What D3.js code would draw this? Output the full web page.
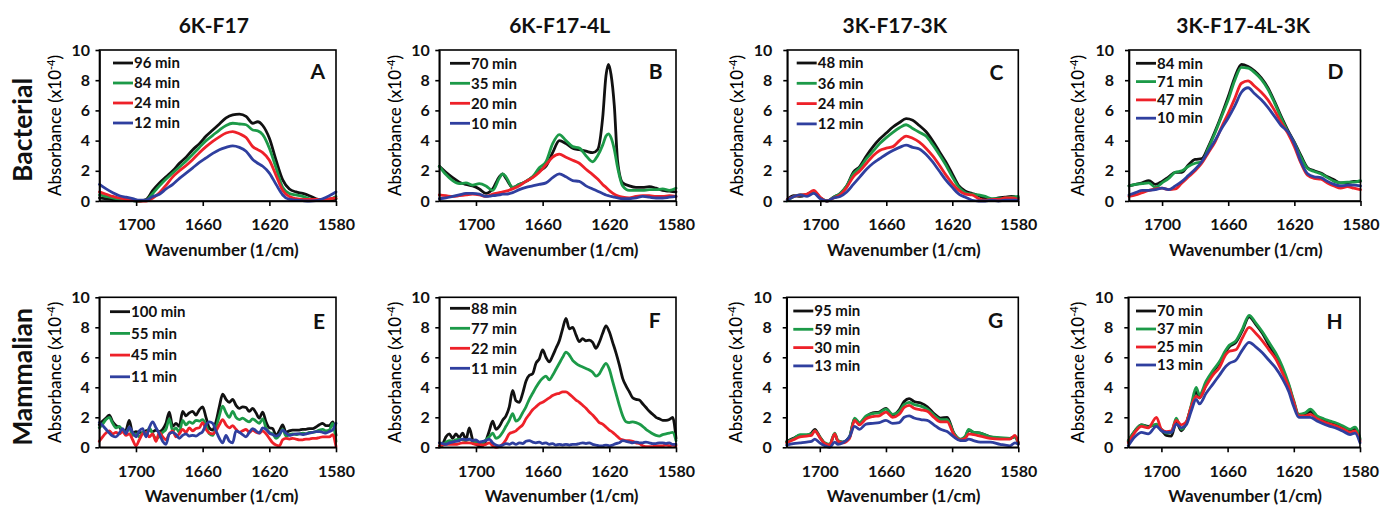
<!DOCTYPE html>
<html><head><meta charset="utf-8">
<script src="https://cdn.jsdelivr.net/npm/d3@7"></script>
<style>
body{margin:0;background:#fff;}
svg{display:block;font-family:Lato,"Open Sans",sans-serif;}
</style></head><body>
<svg id="chart" width="1382" height="507"></svg>
<script>
// ---------- labels ----------
const columnTitles = ["6K-F17","6K-F17-4L","3K-F17-3K","3K-F17-4L-3K"];
const rowTitles = ["Bacterial","Mammalian"];
const panelLetters = ["A","B","C","D","E","F","G","H"];
const yTicks = [0,2,4,6,8,10];
const xTicks = [1700,1660,1620,1580];
const seriesColors = ["#111111","#1c9a48","#ee2129","#2f3f9f"];

const labelsA = ["96 min","84 min","24 min","12 min"];
const labelsB = ["70 min","35 min","20 min","10 min"];
const labelsC = ["48 min","36 min","24 min","12 min"];
const labelsD = ["84 min","71 min","47 min","10 min"];
const labelsE = ["100 min","55 min","45 min","11 min"];
const labelsF = ["88 min","77 min","22 min","11 min"];
const labelsG = ["95 min","59 min","30 min","13 min"];
const labelsH = ["70 min","37 min","25 min","13 min"];

// ---------- wavenumber grids (1/cm) ----------
const wnA = [1722,1718,1714,1710,1706,1702,1698,1694,1690,1686,1682,1678,1674,1670,1666,1662,1658,1654,1650,1646,1642,1638,1634,1630,1627,1624,1620,1616,1612,1608,1604,1600,1596,1592,1588,1584,1580];
const wnB = [1722,1718,1714,1710,1706,1702,1698,1694,1690,1686,1684,1682,1678,1674,1670,1666,1662,1658,1654,1650,1646,1642,1638,1634,1630,1627,1624,1622,1620.5,1619,1617,1615,1612,1608,1604,1600,1596,1592,1588,1584,1580];
const wnCD = [1720,1716,1712,1708,1704,1700,1696,1692,1688,1684,1680,1676,1672,1668,1664,1660,1656,1652,1648,1644,1640,1636,1632,1628,1624,1620,1616,1612,1608,1604,1600,1596,1592,1588,1584,1580];
const wnEF = [1722,1720,1718,1716,1714,1712,1710,1708,1706,1704,1702,1700,1698,1696,1694,1692,1690,1688,1686,1684,1682,1680,1678,1676,1674,1672,1670,1668,1666,1664,1662,1660,1658,1656,1654,1652,1650,1648,1646,1644,1642,1640,1638,1636,1634,1632,1630,1628,1626,1624,1622,1620,1618,1616,1614,1612,1610,1608,1606,1604,1602,1600,1598,1596,1594,1592,1590,1588,1586,1584,1582,1580];
const wnG = [1720,1716,1712,1708,1705,1703,1700,1697,1694,1691,1689,1686,1682,1679,1676,1672,1668,1664,1660,1656,1652,1649,1646,1643,1639,1635,1631,1627,1623,1619,1615,1612,1610,1607,1603,1597,1591,1585,1582,1580];
const wnH = [1720,1716,1712,1708,1703,1700,1697,1694,1691,1688,1685,1682,1679,1677,1673,1669,1665,1661,1659,1655,1651,1647,1643,1639,1635,1631,1627,1623,1620,1617,1613,1610,1606,1602,1598,1594,1590,1586,1583,1580];

// ---------- absorbance (x10^-4) ----------
// A: 6K-F17, bacterial
const A_96 = [0.2,0.15,0.1,0.05,0.05,0.02,0.0,0.1,0.7,1.2,1.6,2.0,2.5,2.9,3.4,3.8,4.3,4.7,5.1,5.5,5.7,5.75,5.6,5.15,5.25,5.0,4.15,2.7,1.4,0.8,0.6,0.5,0.35,0.15,0.05,0.05,0.15];
const A_84 = [0.4,0.3,0.2,0.1,0.05,0.02,0.0,0.05,0.5,1.0,1.45,1.85,2.25,2.65,3.1,3.55,4.0,4.35,4.7,5.0,5.15,5.1,5.05,4.7,4.65,4.4,3.5,2.2,0.9,0.5,0.4,0.3,0.15,0.05,0.05,0.1,0.3];
const A_24 = [0.6,0.45,0.3,0.2,0.1,0.05,0.0,0.0,0.2,0.55,1.05,1.6,2.0,2.35,2.75,3.2,3.6,3.95,4.25,4.5,4.6,4.45,4.2,3.6,3.4,3.2,2.7,1.7,0.7,0.3,0.15,0.1,0.1,0.1,0.1,0.15,0.2];
const A_12 = [1.1,0.8,0.55,0.35,0.25,0.15,0.05,0.05,0.3,0.45,0.8,1.1,1.5,1.85,2.2,2.55,2.85,3.15,3.4,3.55,3.65,3.55,3.3,2.75,2.5,2.3,1.85,1.1,0.4,0.1,0.05,0.02,0.0,0.02,0.15,0.35,0.6];
// B: 6K-F17-4L, bacterial
const B_70 = [2.3,1.9,1.55,1.25,1.1,1.0,0.8,0.5,0.8,1.6,1.8,1.5,0.9,1.1,1.3,1.6,2.0,2.3,3.2,4.0,3.8,3.5,3.4,3.3,3.2,3.4,5.5,8.3,9.05,8.4,6.3,2.6,1.2,1.0,0.9,0.9,0.95,0.85,0.7,0.65,0.6];
const B_35 = [2.3,1.75,1.35,1.15,1.2,1.05,1.15,1.0,0.7,1.5,1.8,1.6,0.9,1.1,1.3,1.6,2.2,2.6,3.8,4.4,4.0,3.6,3.5,3.0,2.6,3.0,3.7,4.3,4.45,4.2,3.4,2.2,1.0,0.7,0.7,0.7,0.75,0.75,0.8,0.7,0.85];
const B_20 = [0.4,0.35,0.3,0.35,0.4,0.45,0.4,0.3,0.45,0.55,0.6,0.65,0.8,1.0,1.3,1.55,1.9,2.4,2.9,3.1,2.9,2.7,2.5,2.1,1.75,1.45,1.1,0.9,0.75,0.6,0.45,0.35,0.25,0.2,0.3,0.35,0.35,0.3,0.3,0.35,0.3];
const B_10 = [0.15,0.2,0.3,0.4,0.5,0.5,0.45,0.3,0.35,0.4,0.45,0.45,0.55,0.75,0.9,1.0,1.1,1.2,1.55,1.8,1.6,1.35,1.3,1.0,0.8,0.65,0.5,0.4,0.35,0.3,0.25,0.2,0.15,0.15,0.2,0.3,0.25,0.2,0.2,0.25,0.3];
// C: 3K-F17-3K, bacterial
const C_48 = [0.1,0.35,0.3,0.45,0.65,0.2,0.0,0.25,0.5,1.0,1.9,2.3,3.0,3.6,4.1,4.5,4.9,5.2,5.45,5.35,5.0,4.6,4.0,3.3,2.6,1.8,1.0,0.65,0.5,0.35,0.15,0.1,0.2,0.25,0.3,0.2];
const C_36 = [0.0,0.3,0.4,0.4,0.6,0.2,0.0,0.25,0.5,1.0,1.8,2.2,2.8,3.3,3.8,4.2,4.55,4.85,5.05,4.8,4.55,4.3,3.75,3.1,2.4,1.6,0.9,0.55,0.45,0.4,0.3,0.15,0.15,0.2,0.25,0.3];
const C_24 = [0.1,0.3,0.4,0.45,0.7,0.25,0.0,0.2,0.4,0.9,1.6,2.0,2.5,3.0,3.35,3.5,3.6,4.0,4.3,4.15,3.9,3.5,3.0,2.4,1.75,1.15,0.7,0.45,0.4,0.15,0.05,0.1,0.1,0.2,0.2,0.1];
const C_12 = [0.05,0.3,0.4,0.3,0.5,0.15,0.0,0.2,0.3,0.6,1.1,1.6,2.1,2.5,2.8,3.1,3.35,3.55,3.7,3.55,3.45,3.1,2.6,2.0,1.4,0.9,0.45,0.25,0.05,0.0,0.0,0.05,0.0,0.05,0.05,0.05];
// D: 3K-F17-4L-3K, bacterial
const D_84 = [1.0,1.1,1.2,1.35,1.1,1.3,1.6,1.9,1.9,2.4,2.75,2.8,3.6,4.6,5.7,6.9,8.2,9.05,8.9,8.6,8.15,7.5,6.6,5.6,4.7,3.9,3.0,2.2,2.0,1.85,1.6,1.4,1.2,1.2,1.3,1.3];
const D_71 = [1.0,1.1,1.15,1.2,0.9,1.2,1.5,1.9,2.0,2.3,2.5,2.6,3.5,4.5,5.6,6.7,8.0,8.85,8.8,8.5,8.05,7.4,6.5,5.5,4.6,3.85,2.9,2.15,1.95,1.8,1.55,1.3,1.2,1.25,1.25,1.35];
const D_47 = [0.3,0.4,0.55,0.7,0.8,0.85,0.75,0.8,1.2,1.6,2.0,2.5,3.2,3.9,4.9,5.8,6.8,7.8,7.95,7.6,7.2,6.7,6.0,5.2,4.5,3.6,2.5,1.7,1.5,1.45,1.2,1.0,0.85,0.95,0.85,0.75];
const D_10 = [0.4,0.55,0.7,0.7,0.75,0.85,0.75,1.0,1.3,1.7,2.1,2.6,3.3,4.0,4.8,5.5,6.3,7.2,7.5,7.1,6.7,6.2,5.6,5.0,4.6,3.8,2.6,1.8,1.6,1.55,1.3,1.1,1.0,1.05,1.05,1.0];
// E: 6K-F17, mammalian
const E_100 = [1.5,1.75,1.95,2.15,1.7,1.45,1.35,1.05,1.15,1.8,0.95,1.05,1.0,0.95,1.1,1.15,1.05,1.15,1.05,1.2,1.6,2.35,1.4,1.6,1.4,2.4,2.1,2.3,2.4,2.15,2.5,2.7,2.0,1.3,1.15,1.7,2.7,3.55,3.2,3.0,3.2,2.8,2.6,2.7,2.65,2.4,2.6,2.3,1.95,2.35,1.7,1.3,1.25,0.8,1.1,1.5,1.0,1.1,1.15,1.15,1.15,1.2,1.2,1.25,1.25,1.35,1.5,1.6,1.45,1.45,1.7,0.8];
const E_55 = [1.3,1.55,1.85,2.0,1.6,1.3,1.4,1.1,1.0,1.3,0.8,0.9,0.7,1.0,0.8,1.3,0.9,0.6,0.7,1.0,1.2,1.9,1.1,1.3,1.0,1.8,1.5,1.7,1.6,1.8,1.75,1.85,1.5,0.9,0.8,1.3,2.1,2.75,2.3,2.0,2.4,2.0,1.85,1.95,1.8,1.7,1.9,1.75,1.6,1.9,1.3,1.0,0.9,0.6,0.8,1.2,0.75,0.85,0.9,0.85,0.9,0.95,0.9,1.0,1.0,1.05,1.15,1.2,1.1,1.15,1.6,0.4];
const E_45 = [0.4,0.7,0.95,1.1,0.9,1.0,0.9,1.05,0.8,0.9,0.5,0.1,0.5,0.9,1.0,0.7,0.9,0.4,1.0,0.7,0.5,0.9,1.1,0.7,0.9,1.2,1.0,1.3,1.1,1.25,1.3,1.65,1.2,0.95,0.9,1.1,1.5,1.85,1.5,1.3,1.45,1.2,1.0,1.1,1.2,1.0,1.15,1.0,0.95,1.1,0.9,0.6,0.3,0.15,0.1,0.5,0.6,0.55,0.6,0.55,0.5,0.5,0.55,0.55,0.6,0.6,0.65,0.7,0.7,0.7,0.85,0.05];
const E_11 = [1.65,1.45,1.2,0.95,0.75,0.7,0.95,1.25,0.9,1.35,1.0,0.7,1.1,1.25,0.7,1.3,1.7,1.3,0.9,0.4,0.2,0.9,1.0,0.85,0.6,0.8,0.9,0.75,0.8,0.75,0.9,1.05,1.5,1.7,1.6,1.1,0.6,0.3,0.8,0.4,0.3,1.1,1.0,0.85,0.7,1.0,1.25,1.1,0.95,1.3,1.2,0.95,0.85,0.75,0.85,1.15,0.95,0.8,0.85,0.9,0.9,0.85,0.9,0.95,1.0,1.05,1.05,1.0,0.95,1.05,1.15,1.6];
// F: 6K-F17-4L, mammalian
const F_88 = [0.0,0.2,0.7,0.9,0.6,0.9,0.65,0.95,0.5,1.3,0.5,0.2,0.1,0.1,0.45,1.1,1.75,1.2,1.4,1.8,2.1,2.7,3.8,3.1,3.0,3.6,4.4,4.8,4.9,5.6,5.9,6.5,6.0,5.7,6.1,6.6,7.1,7.9,8.6,7.9,8.0,7.5,7.05,7.25,7.1,7.15,7.0,6.6,7.0,7.6,8.1,7.7,7.0,6.3,5.5,4.6,4.1,3.7,3.3,3.2,3.15,2.9,2.65,2.4,2.2,2.0,1.9,1.8,1.8,1.85,2.0,0.6];
const F_77 = [0.05,0.15,0.35,0.45,0.4,0.5,0.55,0.5,0.45,0.55,0.4,0.35,0.25,0.3,0.5,0.7,0.95,0.6,0.7,1.0,1.4,1.8,2.25,1.75,1.9,2.3,2.7,3.2,3.6,4.0,4.35,4.6,4.75,4.5,4.8,5.2,5.6,6.0,6.35,6.15,5.8,5.6,5.45,5.35,5.25,5.15,5.0,4.75,4.9,5.3,5.6,5.2,4.4,3.6,2.8,2.1,1.7,1.65,1.7,1.65,1.55,1.4,1.2,1.05,0.9,0.8,0.75,0.85,0.9,0.95,1.0,0.45];
const F_22 = [0.1,0.15,0.2,0.2,0.2,0.2,0.25,0.3,0.3,0.3,0.25,0.2,0.2,0.15,0.2,0.3,0.1,0.0,0.05,0.2,0.5,0.9,1.0,1.1,1.3,1.5,1.9,2.2,2.5,2.7,2.9,3.0,3.15,3.3,3.45,3.55,3.6,3.7,3.7,3.55,3.35,3.15,3.0,2.8,2.6,2.35,2.15,1.9,1.65,1.55,1.35,1.15,1.0,0.8,0.6,0.5,0.45,0.45,0.4,0.3,0.25,0.1,0.05,0.05,0.05,0.1,0.1,0.1,0.15,0.1,0.15,0.1];
const F_11 = [0.3,0.25,0.2,0.3,0.35,0.4,0.45,0.55,0.5,0.55,0.45,0.5,0.35,0.4,0.45,0.55,0.3,0.15,0.1,0.15,0.25,0.2,0.3,0.2,0.3,0.25,0.4,0.45,0.35,0.3,0.35,0.25,0.3,0.2,0.25,0.15,0.2,0.15,0.2,0.15,0.2,0.2,0.25,0.3,0.25,0.3,0.2,0.15,0.1,0.1,0.15,0.1,0.15,0.25,0.3,0.45,0.4,0.35,0.3,0.35,0.3,0.3,0.35,0.3,0.25,0.25,0.3,0.3,0.25,0.3,0.2,0.2];
// G: 3K-F17-3K, mammalian
const G_95 = [0.38,0.6,0.8,0.8,0.95,1.2,0.7,0.25,0.15,0.9,0.4,0.35,0.7,1.9,1.6,2.05,2.3,2.35,2.6,2.15,2.5,3.05,3.25,3.05,2.95,2.7,2.25,1.95,2.0,0.95,0.5,0.7,1.15,1.0,0.95,0.7,0.6,0.6,0.7,0.25];
const G_59 = [0.35,0.55,0.85,0.85,0.9,1.1,0.7,0.3,0.2,0.95,0.45,0.35,0.7,1.95,1.65,2.1,2.25,2.3,2.55,2.2,2.4,2.85,3.0,2.85,2.75,2.55,2.15,1.85,1.85,0.95,0.55,0.75,1.2,1.0,0.95,0.7,0.65,0.6,0.7,0.3];
const G_30 = [0.3,0.5,0.7,0.75,0.8,1.1,0.65,0.25,0.15,0.9,0.4,0.3,0.6,1.8,1.5,1.9,2.05,2.1,2.35,2.0,2.2,2.65,2.8,2.6,2.5,2.4,2.0,1.7,1.7,0.85,0.5,0.6,0.9,0.85,0.75,0.6,0.55,0.55,0.8,0.3];
const G_13 = [0.15,0.25,0.3,0.35,0.4,0.55,0.3,0.1,0.0,0.35,0.2,0.3,0.7,1.4,1.2,1.55,1.6,1.65,1.8,1.6,1.65,2.0,2.1,1.95,1.85,1.8,1.5,1.2,1.05,0.7,0.45,0.45,0.55,0.45,0.35,0.35,0.2,0.1,0.3,0.2];
// H: 3K-F17-4L-3K, mammalian
const H_70 = [0.4,1.1,1.5,1.4,1.5,1.15,0.8,0.75,1.7,1.1,1.6,2.7,3.7,3.3,4.2,5.0,5.6,6.4,6.7,7.0,7.8,8.7,8.2,7.6,6.8,6.1,5.2,4.1,3.0,2.15,2.2,2.4,1.95,1.8,1.65,1.5,1.25,1.1,1.25,0.5];
const H_37 = [0.45,1.1,1.5,1.35,1.55,1.2,0.95,1.0,1.95,1.2,1.6,2.8,4.0,3.5,4.4,5.1,5.7,6.5,6.8,7.1,7.9,8.8,8.3,7.7,7.0,6.3,5.4,4.2,3.1,2.2,2.3,2.55,2.1,1.9,1.75,1.6,1.4,1.2,1.35,0.6];
const H_25 = [0.3,1.0,1.4,1.3,2.0,1.2,1.05,1.1,1.8,1.5,1.7,2.7,3.4,3.3,4.1,4.8,5.3,6.2,6.4,6.5,7.3,8.0,7.6,7.1,6.5,5.9,5.0,4.0,3.0,2.1,2.1,2.2,1.9,1.7,1.55,1.4,1.2,1.0,1.1,0.4];
const H_13 = [0.1,0.7,1.0,0.9,1.4,1.1,1.0,1.0,1.55,1.3,1.5,2.4,3.2,2.9,3.6,4.2,4.8,5.4,5.6,5.8,6.5,7.0,6.7,6.3,5.8,5.3,4.6,3.7,2.7,2.0,2.0,2.0,1.75,1.55,1.4,1.25,1.05,0.85,0.95,0.3];

// ---------- panel table built from the arrays ----------
const panels = [
  {wn:wnA, dom:[1722,1580], s:[A_96,A_84,A_24,A_12], lab:labelsA, x0:99.5, x1:336, top:50, bot:201, col:0, leg:[13.5,13,20], let:[11,29]},
  {wn:wnB, dom:[1722,1580], s:[B_70,B_35,B_20,B_10], lab:labelsB, x0:439.3, x1:676, top:50, bot:201, col:1, leg:[10.7,13.3,20], let:[13.3,29]},
  {wn:wnCD, dom:[1720,1580], s:[C_48,C_36,C_24,C_12], lab:labelsC, x0:787.3, x1:1018.3, top:50, bot:201, col:2, leg:[9.4,13,20.3], let:[15,30]},
  {wn:wnCD, dom:[1720,1580], s:[D_84,D_71,D_47,D_10], lab:labelsD, x0:1129, x1:1360.5, top:50, bot:201, col:3, leg:[7,13.3,18.3], let:[17,29]},
  {wn:wnEF, dom:[1722,1580], s:[E_100,E_55,E_45,E_11], lab:labelsE, x0:99.3, x1:336, top:297.3, bot:447.3, col:0, leg:[10.7,14.4,21.7], let:[11,31.7]},
  {wn:wnEF, dom:[1722,1580], s:[F_88,F_77,F_22,F_11], lab:labelsF, x0:439.3, x1:676, top:297.3, bot:447.3, col:1, leg:[10.7,11,20], let:[15.3,31]},
  {wn:wnG, dom:[1720,1580], s:[G_95,G_59,G_30,G_13], lab:labelsG, x0:786.7, x1:1018.3, top:297.3, bot:447.3, col:2, leg:[6.6,13.7,18.3], let:[15,31]},
  {wn:wnH, dom:[1720,1580], s:[H_70,H_37,H_25,H_13], lab:labelsH, x0:1128.3, x1:1360, top:297.3, bot:447.3, col:3, leg:[7.7,13.7,18], let:[17.3,31.7]}
];
const colTickPad = [5.5,5.5,11,11];
const colYLabOff = [44.5,44.5,50.5,50.5];
const colXTitleOff = [4,4,1,1];
const titleOff = [-4,2,-8,-1.5];

const svg = d3.select("#chart");

panels.forEach((p,pi)=>{
  const x = d3.scaleLinear().domain(p.dom).range([p.x0,p.x1]);
  const y = d3.scaleLinear().domain([0,10]).range([p.bot,p.top]);
  const g = svg.append("g");
  const line = d3.line().x(d=>x(d[0])).y(d=>y(d[1])).curve(d3.curveMonotoneX);
  p.s.forEach((s,i)=>{
    const pts = p.wn.map((w,j)=>[w,s[j]]).filter(d=>d[1]!==undefined);
    g.append("path").attr("d",line(pts)).attr("fill","none")
      .attr("stroke",seriesColors[i]).attr("stroke-width",2.8)
      .attr("stroke-linejoin","round").attr("stroke-linecap","round");
  });
  // frame
  g.append("rect").attr("x",p.x0).attr("y",p.top).attr("width",p.x1-p.x0).attr("height",p.bot-p.top)
    .attr("fill","none").attr("stroke","#000").attr("stroke-width",1.6);
  // axes
  const xa = g.append("g").attr("transform",`translate(0,${p.bot})`)
    .call(d3.axisBottom(x).tickValues(xTicks).tickSize(5).tickSizeOuter(0).tickPadding(13).tickFormat(d3.format("d")));
  const ya = g.append("g").attr("transform",`translate(${p.x0},0)`)
    .call(d3.axisLeft(y).tickValues(yTicks).tickSize(4).tickSizeOuter(0).tickPadding(colTickPad[p.col]));
  [xa,ya].forEach(a=>{
    a.select(".domain").attr("stroke","#000").attr("stroke-width",1.6);
    a.selectAll(".tick line").attr("stroke","#000").attr("stroke-width",1.6);
    a.selectAll(".tick text").attr("fill","#111").style("font-size","16px").style("font-weight","700").style("font-family","Lato");
  });
  // y label
  const cy = (p.top+p.bot)/2, cx = p.x0-colYLabOff[p.col];
  const yl = g.append("text").attr("transform",`translate(${cx},${cy}) rotate(-90)`)
    .attr("text-anchor","middle").attr("dy","0.35em").style("font-size","17px")
    .style("font-weight","500").attr("fill","#000");
  yl.append("tspan").text("Absorbance (x10");
  yl.append("tspan").attr("dy","-6").style("font-size","11px").text("-4");
  yl.append("tspan").attr("dy","6").text(")");
  // x title
  g.append("text").attr("x",(p.x0+p.x1)/2+colXTitleOff[p.col]).attr("y",p.bot+55)
    .attr("text-anchor","middle").style("font-size","17px").style("font-weight","700").attr("fill","#111")
    .text("Wavenumber (1/cm)");
  // panel letter
  g.append("text").attr("x",p.x1-p.let[0]).attr("y",p.top+p.let[1]).attr("text-anchor","end")
    .style("font-size","21px").style("font-weight","700").attr("fill","#111").text(panelLetters[pi]);
  // legend
  p.lab.forEach((t,i)=>{
    const ly = p.top+p.leg[1]+i*p.leg[2];
    const lx = p.x0+p.leg[0];
    g.append("line").attr("x1",lx).attr("x2",lx+20).attr("y1",ly).attr("y2",ly)
      .attr("stroke",seriesColors[i]).attr("stroke-width",2.8);
    g.append("text").attr("x",lx+21).attr("y",ly).attr("dy","0.35em")
      .style("font-size","15px").style("font-weight","700").attr("fill","#111").text(t);
  });
  // column title
  if (pi<4) {
    svg.append("text").attr("x",(p.x0+p.x1)/2+titleOff[pi]).attr("y",33).attr("text-anchor","middle")
      .style("font-size","21px").style("font-weight","700").attr("fill","#111").text(columnTitles[pi]);
  }
});

// row titles
[[130,0],[377,1]].forEach(([cy,i])=>{
  svg.append("text").attr("transform",`translate(23,${cy}) rotate(-90)`).attr("text-anchor","middle")
    .attr("dy","0.35em").style("font-size","26.5px").style("font-weight","700").attr("fill","#111").text(rowTitles[i]);
});
</script>
</body></html>
